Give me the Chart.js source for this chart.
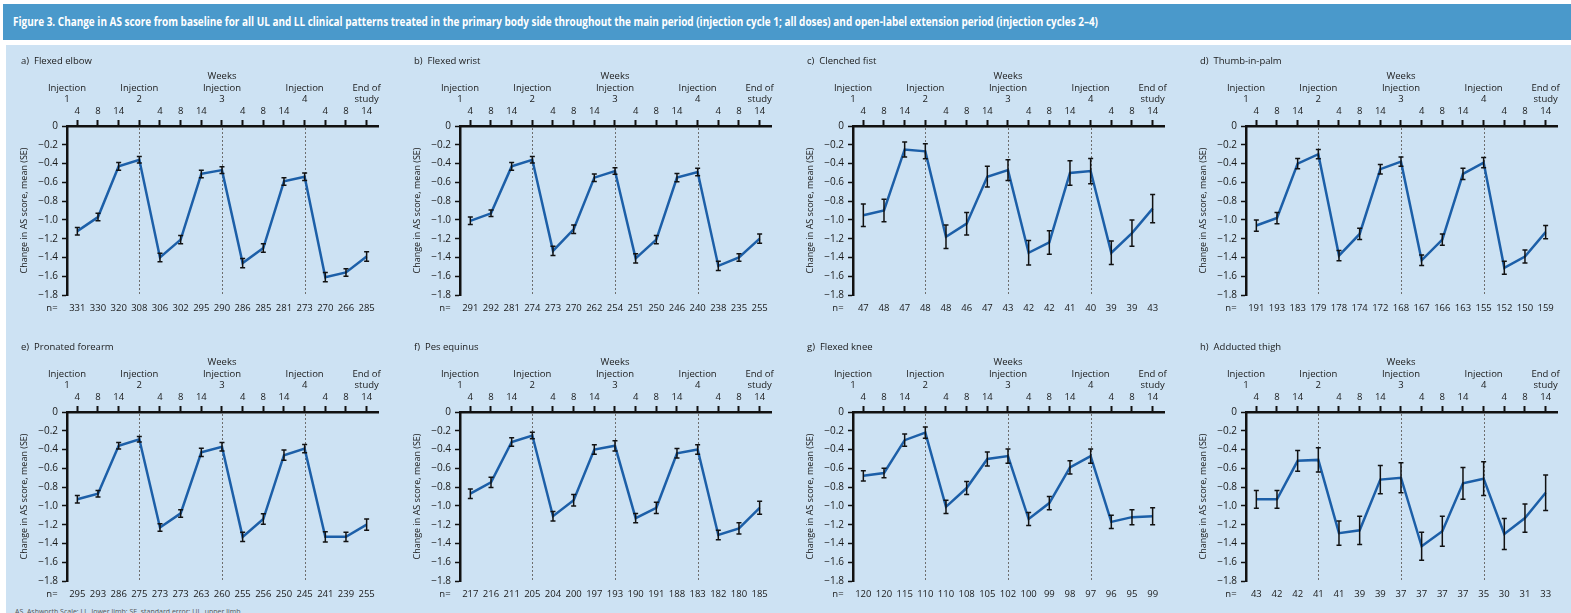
<!DOCTYPE html>
<html>
<head>
<meta charset="utf-8">
<script src="https://cdn.jsdelivr.net/npm/chart.js@4.4.1/dist/chart.umd.min.js"></script>
<style>
  body { margin: 0; width: 1571px; height: 613px; overflow: hidden; background: #fff; font-family: "Open Sans", sans-serif; position: relative; }
  #bar { position: absolute; left: 3px; top: 4px; width: 1568px; height: 36px; background: #4a99cb; }
  #bar span { position: absolute; left: 10px; top: 9px; color: #fff; font-weight: bold; font-size: 12px; white-space: nowrap; transform-origin: 0 0; }
  #panel { position: absolute; left: 6px; top: 45px; width: 1565px; height: 568px; background: #cde2f3; }
  .cell { position: absolute; width: 393px; height: 286px; }
  #foot { position: absolute; left: 15px; top: 607px; font-size: 7px; color: #555; white-space: nowrap; }
</style>
</head>
<body>
<div id="bar"><span id="figTitle">Figure 3. Change in AS score from baseline for all UL and LL clinical patterns treated in the primary body side throughout the main period (injection cycle 1; all doses) and open-label extension period (injection cycles 2–4)</span></div>
<div id="panel"></div>
<div id="foot">AS, Ashworth Scale; LL, lower limb; SE, standard error; UL, upper limb</div>

<script>
// ---------- shared axis labels

const weekLabels = ["4", "8", "14", "", "4", "8", "14", "", "4", "8", "14", "", "4", "8", "14"];
const injectionAt = [0.5, 4, 8, 12];
const injectionNum = ["1", "2", "3", "4"];

// ---------- panel data (mean change, SE, n)

const elbowMean = [-1.12, -0.97, -0.43, -0.36, -1.40, -1.21, -0.51, -0.47, -1.46, -1.30, -0.59, -0.54, -1.61, -1.56, -1.39];
const elbowSE = [0.04, 0.04, 0.04, 0.035, 0.045, 0.045, 0.04, 0.035, 0.05, 0.045, 0.04, 0.04, 0.05, 0.04, 0.05];
const elbowN = [331, 330, 320, 308, 306, 302, 295, 290, 286, 285, 281, 273, 270, 266, 285];

const wristMean = [-1.01, -0.93, -0.43, -0.36, -1.33, -1.10, -0.55, -0.48, -1.41, -1.21, -0.55, -0.49, -1.49, -1.40, -1.20];
const wristSE = [0.04, 0.035, 0.04, 0.035, 0.05, 0.045, 0.04, 0.035, 0.05, 0.045, 0.045, 0.04, 0.05, 0.04, 0.05];
const wristN = [291, 292, 281, 274, 273, 270, 262, 254, 251, 250, 246, 240, 238, 235, 255];

const fistMean = [-0.95, -0.90, -0.25, -0.27, -1.18, -1.04, -0.54, -0.47, -1.35, -1.24, -0.50, -0.48, -1.35, -1.14, -0.88];
const fistSE = [0.12, 0.12, 0.08, 0.08, 0.125, 0.12, 0.11, 0.11, 0.13, 0.125, 0.13, 0.135, 0.125, 0.14, 0.15];
const fistN = [47, 48, 47, 48, 48, 46, 47, 43, 42, 42, 41, 40, 39, 39, 43];

const thumbMean = [-1.06, -0.98, -0.40, -0.30, -1.38, -1.15, -0.46, -0.38, -1.43, -1.21, -0.51, -0.39, -1.51, -1.39, -1.13];
const thumbSE = [0.06, 0.06, 0.055, 0.05, 0.055, 0.06, 0.05, 0.05, 0.055, 0.06, 0.06, 0.055, 0.07, 0.07, 0.07];
const thumbN = [191, 193, 183, 179, 178, 174, 172, 168, 167, 166, 163, 155, 152, 150, 159];

const forearmMean = [-0.93, -0.87, -0.36, -0.29, -1.23, -1.08, -0.43, -0.37, -1.33, -1.14, -0.46, -0.39, -1.33, -1.33, -1.20];
const forearmSE = [0.04, 0.035, 0.035, 0.03, 0.04, 0.04, 0.045, 0.045, 0.05, 0.055, 0.055, 0.045, 0.055, 0.05, 0.06];
const forearmN = [295, 293, 286, 275, 273, 273, 263, 260, 255, 256, 250, 245, 241, 239, 255];

const equinusMean = [-0.87, -0.75, -0.32, -0.25, -1.11, -0.94, -0.40, -0.36, -1.13, -1.02, -0.44, -0.40, -1.31, -1.24, -1.02];
const equinusSE = [0.05, 0.055, 0.045, 0.035, 0.05, 0.06, 0.05, 0.055, 0.05, 0.06, 0.05, 0.05, 0.05, 0.06, 0.07];
const equinusN = [217, 216, 211, 205, 204, 200, 197, 193, 190, 191, 188, 183, 182, 180, 185];

const kneeMean = [-0.68, -0.65, -0.30, -0.22, -1.01, -0.81, -0.50, -0.47, -1.14, -0.97, -0.59, -0.47, -1.17, -1.12, -1.11];
const kneeSE = [0.055, 0.05, 0.065, 0.06, 0.07, 0.07, 0.075, 0.075, 0.07, 0.07, 0.07, 0.075, 0.07, 0.08, 0.09];
const kneeN = [120, 120, 115, 110, 110, 108, 105, 102, 100, 99, 98, 97, 96, 95, 99];

const thighMean = [-0.93, -0.93, -0.52, -0.51, -1.29, -1.26, -0.72, -0.70, -1.43, -1.27, -0.76, -0.71, -1.30, -1.13, -0.86];
const thighSE = [0.095, 0.095, 0.11, 0.13, 0.13, 0.15, 0.15, 0.16, 0.15, 0.16, 0.17, 0.18, 0.165, 0.15, 0.19];
const thighN = [43, 42, 42, 41, 41, 39, 39, 37, 37, 37, 37, 35, 30, 31, 33];

const panels = [
    { title: "a)  Flexed elbow", mean: elbowMean, se: elbowSE, n: elbowN },
    { title: "b)  Flexed wrist", mean: wristMean, se: wristSE, n: wristN },
    { title: "c)  Clenched fist", mean: fistMean, se: fistSE, n: fistN },
    { title: "d)  Thumb-in-palm", mean: thumbMean, se: thumbSE, n: thumbN },
    { title: "e)  Pronated forearm", mean: forearmMean, se: forearmSE, n: forearmN },
    { title: "f)  Pes equinus", mean: equinusMean, se: equinusSE, n: equinusN },
    { title: "g)  Flexed knee", mean: kneeMean, se: kneeSE, n: kneeN },
    { title: "h)  Adducted thigh", mean: thighMean, se: thighSE, n: thighN }
];

const TEXT = "#1a1a1a";
const FONT = "Open Sans";

// ---------- title bar, squeezed to the condensed width of the original

const figTitle = document.getElementById("figTitle");
figTitle.style.transform = "scaleX(" + (1085 / figTitle.getBoundingClientRect().width) + ")";

// ---------- one chart per clinical pattern

function makeChart(p, idx) {

    const cell = document.createElement("div");
    cell.className = "cell";
    cell.style.left = (idx % 4) * 393 + "px";
    cell.style.top = (40 + Math.floor(idx / 4) * 286) + "px";
    document.body.appendChild(cell);

    const canvas = document.createElement("canvas");
    canvas.width = 393;
    canvas.height = 286;
    cell.appendChild(canvas);

    const extras = {
        id: "panelExtras",

        beforeDatasetsDraw(chart) {
            const { ctx, chartArea: a, scales: { x } } = chart;
            ctx.save();
            ctx.strokeStyle = "#6e6e6e";
            ctx.lineWidth = 1;
            ctx.setLineDash([2, 2]);
            injectionAt.slice(1).forEach(v => {
                const px = Math.round(x.getPixelForValue(v)) + 0.5;
                ctx.beginPath();
                ctx.moveTo(px, a.top + 2);
                ctx.lineTo(px, a.bottom);
                ctx.stroke();
            });
            ctx.restore();
        },

        afterDatasetsDraw(chart) {
            const { ctx, scales: { x, y } } = chart;
            ctx.save();
            ctx.strokeStyle = "#111";
            ctx.lineWidth = 1.5;
            p.mean.forEach((m, i) => {
                const px = x.getPixelForValue(i + 1);
                const top = y.getPixelForValue(m + p.se[i]);
                const bot = y.getPixelForValue(m - p.se[i]);
                ctx.beginPath();
                ctx.moveTo(px, top); ctx.lineTo(px, bot);
                ctx.moveTo(px - 2.5, top); ctx.lineTo(px + 2.5, top);
                ctx.moveTo(px - 2.5, bot); ctx.lineTo(px + 2.5, bot);
                ctx.stroke();
            });
            ctx.restore();
        },

        afterDraw(chart) {
            const { ctx, chartArea: a, scales: { x } } = chart;
            ctx.save();
            ctx.fillStyle = TEXT;
            ctx.font = "9.5px '" + FONT + "'";
            ctx.textBaseline = "middle";

            ctx.textAlign = "left";
            ctx.fillText(p.title, 21, a.top - 65);

            ctx.textAlign = "center";
            ctx.fillText("Weeks", x.getPixelForValue(8), a.top - 50);
            injectionAt.forEach((v, i) => {
                const px = x.getPixelForValue(v);
                ctx.fillText("Injection", px, a.top - 38);
                ctx.fillText(injectionNum[i], px, a.top - 27);
            });
            const endX = x.getPixelForValue(15);
            ctx.fillText("End of", endX, a.top - 38);
            ctx.fillText("study", endX, a.top - 27);

            ctx.fillText("n=", a.left - 15, a.bottom + 13);
            p.n.forEach((v, i) => {
                ctx.fillText(String(v), x.getPixelForValue(i + 1), a.bottom + 13);
            });
            ctx.restore();
        }
    };

    return new Chart(canvas, {

        type: "line",

        data: {
            datasets: [{
                data: p.mean.map((m, i) => ({ x: i + 1, y: m })),
                borderColor: "#1c5fa8",
                borderWidth: 2.5,
                pointRadius: 0,
                tension: 0,
                fill: false
            }]
        },

        options: {
            responsive: false,
            animation: false,
            devicePixelRatio: 1,
            layout: { padding: { top: 66, left: 0, right: 15, bottom: 31 } },
            plugins: { legend: { display: false }, tooltip: { enabled: false } },
            scales: {
                x: {
                    type: "linear",
                    position: "top",
                    min: 0.5,
                    max: 15.55,
                    afterBuildTicks: s => { s.ticks = weekLabels.map((_, i) => ({ value: i + 1 })); },
                    afterFit: s => { s.height = 20; },
                    ticks: {
                        autoSkip: false,
                        maxRotation: 0,
                        padding: 3,
                        color: TEXT,
                        font: { family: FONT, size: 9.5 },
                        callback: v => weekLabels[Math.round(v) - 1]
                    },
                    grid: { drawOnChartArea: false, tickLength: 6, tickWidth: 2, tickColor: "#111" },
                    border: { color: "#111", width: 2.5 }
                },
                y: {
                    min: -1.8,
                    max: 0,
                    afterFit: s => { s.width = 67; },
                    ticks: {
                        stepSize: 0.2,
                        padding: 4,
                        color: TEXT,
                        font: { family: FONT, size: 10 },
                        callback: v => Math.abs(v) < 1e-9 ? "0" : "\u2212" + Math.abs(v).toFixed(1)
                    },
                    grid: { drawOnChartArea: false, tickLength: 5, tickWidth: 1.5, tickColor: "#111" },
                    border: { color: "#111", width: 2.5 },
                    title: {
                        display: true,
                        text: "Change in AS score, mean (SE)",
                        color: TEXT,
                        font: { family: FONT, size: 9 },
                        padding: { top: 19, bottom: 0 }
                    }
                }
            }
        },

        plugins: [extras]
    });
}

panels.forEach(makeChart);
</script>
</body>
</html>
